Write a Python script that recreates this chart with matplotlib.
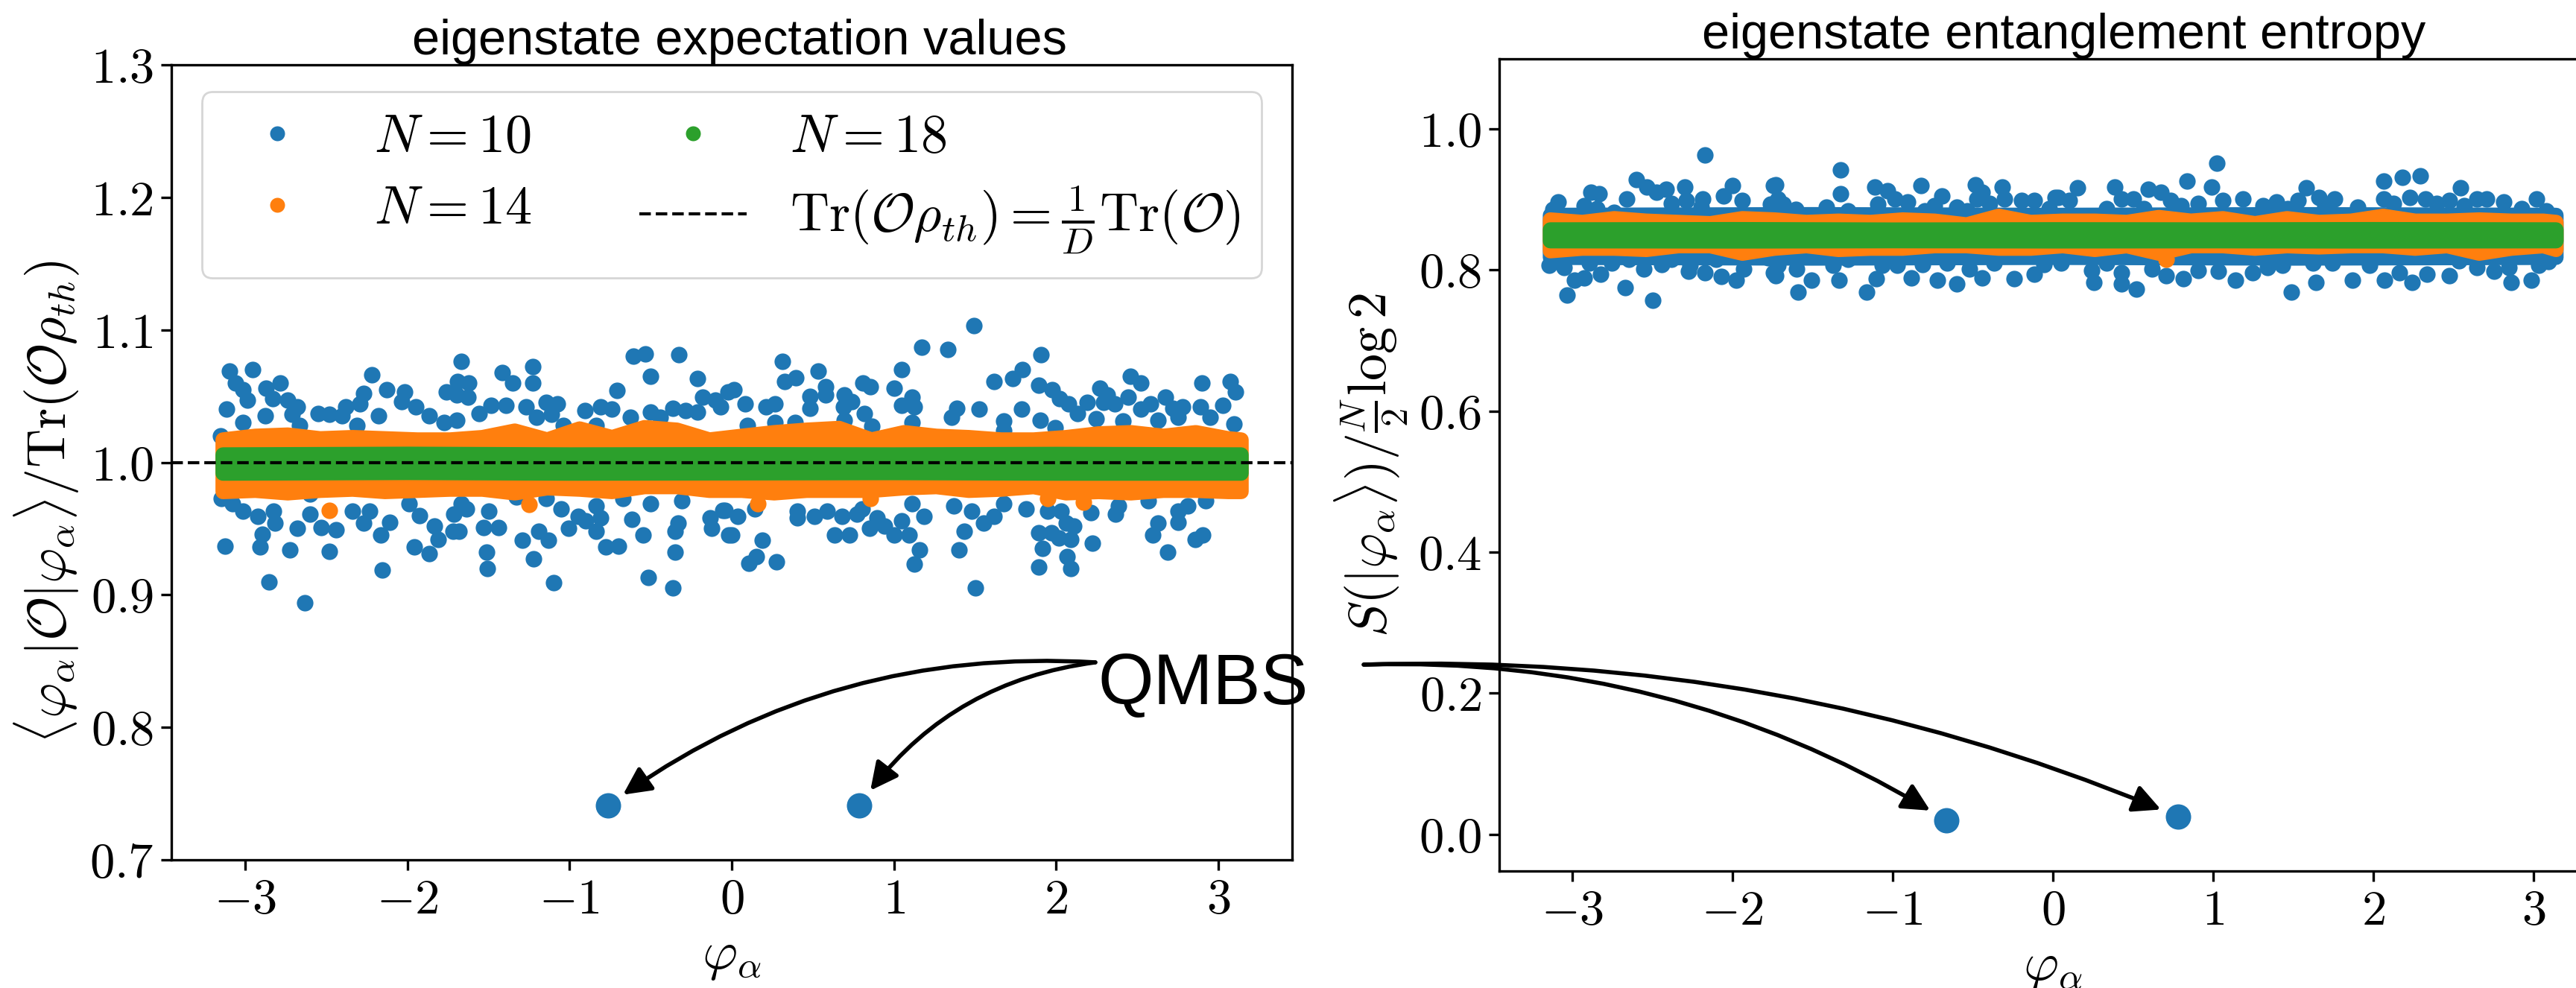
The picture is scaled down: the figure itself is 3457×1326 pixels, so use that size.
import matplotlib
matplotlib.use('Agg')
import matplotlib.pyplot as plt
from matplotlib.lines import Line2D
from matplotlib.ticker import FuncFormatter, MultipleLocator

plt.rcParams['mathtext.fontset'] = 'cm'
plt.rcParams['font.family'] = ['Liberation Sans', 'DejaVu Sans']

# --- colores (tab10) ---
C10, C14, C18 = '#1f77b4', '#ff7f0e', '#2ca02c'

# ================= panel izquierdo: valores esperados =================
# N=10, puntos visibles fuera de la banda (phi, valor)
ev_n10 = [
    (-3.096, 1.069), (-2.955, 1.070), (-3.062, 1.060), (-3.016, 1.055), (-2.986, 1.047), (-2.870, 1.056),
    (-2.786, 1.060), (-2.832, 1.048), (-3.116, 1.040), (-2.740, 1.047), (-2.679, 1.042), (-2.709, 1.036),
    (-2.878, 1.035), (-3.016, 1.030), (-2.663, 1.028), (-2.548, 1.037), (-2.479, 1.036), (-2.380, 1.042),
    (-2.403, 1.035), (-2.272, 1.052), (-2.295, 1.044), (-2.219, 1.066), (-2.127, 1.055), (-2.019, 1.053),
    (-2.035, 1.046), (-1.950, 1.042), (-1.866, 1.035), (-2.180, 1.035), (-1.759, 1.053), (-3.154, 1.020),
    (-2.311, 1.028), (-1.774, 1.030),
    (-3.147, 0.973), (-3.078, 0.969), (-3.016, 0.963), (-2.924, 0.959), (-2.825, 0.963), (-2.817, 0.954),
    (-2.894, 0.946), (-2.909, 0.936), (-3.124, 0.937), (-2.855, 0.910), (-2.633, 0.894), (-2.725, 0.934),
    (-2.679, 0.950), (-2.602, 0.961), (-2.533, 0.951), (-2.479, 0.933), (-2.441, 0.949), (-2.341, 0.963),
    (-2.272, 0.954), (-2.234, 0.963), (-2.165, 0.945), (-2.111, 0.955), (-2.157, 0.919), (-1.958, 0.936),
    (-1.866, 0.931), (-1.927, 0.960), (-1.835, 0.952), (-1.812, 0.942), (-1.989, 0.969), (-1.720, 0.948),
    (-2.602, 0.976),
    (-1.666, 1.076), (-1.689, 1.061), (-1.620, 1.060), (-1.697, 1.051), (-1.628, 1.049), (-1.413, 1.068),
    (-1.352, 1.060), (-1.229, 1.072), (-1.229, 1.060), (-1.482, 1.043), (-1.390, 1.043), (-1.559, 1.037),
    (-1.267, 1.042), (-1.145, 1.045), (-1.076, 1.044), (-1.206, 1.034), (-1.114, 1.036), (-1.697, 1.032),
    (-0.907, 1.039), (-0.807, 1.042), (-0.707, 1.054), (-0.738, 1.040), (-0.608, 1.080), (-0.531, 1.082),
    (-0.500, 1.065), (-0.324, 1.081), (-0.209, 1.063), (-0.178, 1.049), (-0.102, 1.047), (-0.071, 1.042),
    (-0.623, 1.034), (-0.500, 1.038), (-0.362, 1.041), (-0.286, 1.039), (-0.209, 1.038), (-0.025, 1.053),
    (-1.037, 1.028), (-0.838, 1.028), (-0.439, 1.034),
    (-1.666, 0.969), (-1.712, 0.961), (-1.681, 0.948), (-1.635, 0.965), (-1.497, 0.963), (-1.528, 0.951),
    (-1.436, 0.951), (-1.513, 0.932), (-1.505, 0.920), (-1.329, 0.974), (-1.290, 0.941), (-1.191, 0.948),
    (-1.129, 0.941), (-1.221, 0.927), (-1.098, 0.909), (-1.145, 0.973), (-1.053, 0.965), (-1.006, 0.950),
    (-0.945, 0.959), (-0.899, 0.956), (-0.838, 0.967), (-0.807, 0.958), (-0.838, 0.948), (-0.776, 0.936),
    (-0.700, 0.937), (-0.669, 0.973), (-0.615, 0.957), (-0.546, 0.945), (-0.500, 0.969), (-0.516, 0.913),
    (-0.362, 0.905), (-0.347, 0.932), (-0.332, 0.954), (-0.347, 0.948), (-0.308, 0.971), (-0.132, 0.958),
    (-0.125, 0.950), (-0.056, 0.964), (-0.017, 0.945),
    (0.014, 1.055), (0.083, 1.044), (0.313, 1.076), (0.328, 1.061), (0.397, 1.064), (0.213, 1.042),
    (0.267, 1.044), (0.535, 1.069), (0.581, 1.057), (0.581, 1.051), (0.482, 1.050), (0.482, 1.041),
    (0.696, 1.051), (0.742, 1.046), (0.689, 1.042), (0.811, 1.060), (0.857, 1.057), (0.819, 1.037),
    (0.865, 1.027), (1.049, 1.070), (1.003, 1.056), (1.110, 1.049), (1.049, 1.043), (1.126, 1.042),
    (1.172, 1.087), (1.333, 1.085), (1.494, 1.103), (1.616, 1.061), (1.387, 1.041), (1.524, 1.040),
    (1.356, 1.034), (1.678, 1.031), (0.267, 1.030), (0.390, 1.030), (0.098, 1.028), (1.110, 1.030),
    (0.696, 1.032),
    (-0.040, 0.964), (0.037, 0.959), (-0.002, 0.945), (0.144, 0.965), (0.190, 0.941), (0.152, 0.929),
    (0.106, 0.924), (0.274, 0.925), (0.405, 0.958), (0.405, 0.963), (0.512, 0.959), (0.589, 0.963),
    (0.635, 0.945), (0.727, 0.945), (0.681, 0.959), (0.773, 0.961), (0.804, 0.965), (0.850, 0.950),
    (0.896, 0.958), (0.942, 0.952), (1.003, 0.945), (1.049, 0.956), (1.095, 0.945), (1.126, 0.923),
    (1.156, 0.934), (1.187, 0.959), (1.110, 0.969), (1.371, 0.967), (1.433, 0.948), (1.402, 0.934),
    (1.502, 0.905), (1.479, 0.963), (1.555, 0.954), (1.616, 0.959), (1.678, 0.969),
    (1.732, 1.063), (1.793, 1.070), (1.908, 1.081), (1.893, 1.058), (1.977, 1.055), (2.023, 1.048),
    (2.077, 1.044), (2.131, 1.037), (1.786, 1.040), (1.901, 1.032), (1.993, 1.026), (2.192, 1.045),
    (2.269, 1.056), (2.315, 1.051), (2.292, 1.045), (2.361, 1.044), (2.246, 1.033), (2.414, 1.031),
    (2.460, 1.065), (2.522, 1.060), (2.445, 1.049), (2.522, 1.040), (2.583, 1.044), (2.675, 1.049),
    (2.629, 1.032), (2.721, 1.041), (2.782, 1.042), (2.752, 1.034), (2.898, 1.060), (3.074, 1.061),
    (3.105, 1.053), (3.028, 1.043), (2.890, 1.042), (2.951, 1.034), (3.097, 1.029), (1.678, 1.024),
    (1.816, 0.965), (1.947, 0.963), (1.893, 0.947), (1.970, 0.947), (2.031, 0.963), (2.062, 0.954),
    (2.108, 0.952), (2.092, 0.942), (2.016, 0.943), (1.916, 0.935), (1.893, 0.921), (2.069, 0.929),
    (2.092, 0.920), (2.223, 0.939), (2.215, 0.962), (2.368, 0.961), (2.384, 0.967), (2.568, 0.971),
    (2.629, 0.954), (2.598, 0.945), (2.690, 0.932), (2.752, 0.955), (2.752, 0.963), (2.859, 0.942),
    (2.905, 0.945), (2.921, 0.971), (2.813, 0.967),
]
# N=14, puntos sueltos por debajo de la banda
ev_n14_out = [(-2.479, 0.964), (-1.252, 0.968), (0.160, 0.969), (0.857, 0.973), (2.169, 0.970), (1.947, 0.973)]

# banda densa de N=14 (bordes superior/inferior leídos por estación)
band_phi = [-3.14, -2.94, -2.74, -2.54, -2.34, -2.14, -1.94, -1.74, -1.54, -1.34, -1.14,
            -0.94, -0.74, -0.54, -0.34, -0.14, 0.06, 0.26, 0.46, 0.66, 0.86, 1.06,
            1.26, 1.46, 1.66, 1.86, 2.06, 2.26, 2.46, 2.66, 2.86, 3.06, 3.14]
ev_n14_hi = [1.0173, 1.0201, 1.0210, 1.0182, 1.0191, 1.0182, 1.0173, 1.0173, 1.0191, 1.0240, 1.0173,
             1.0256, 1.0191, 1.0266, 1.0247, 1.0173, 1.0201, 1.0228, 1.0247, 1.0260, 1.0173, 1.0228,
             1.0201, 1.0191, 1.0173, 1.0173, 1.0191, 1.0219, 1.0228, 1.0201, 1.0228, 1.0182, 1.0173]
ev_n14_lo = [0.9781, 0.9790, 0.9771, 0.9790, 0.9799, 0.9781, 0.9790, 0.9799, 0.9799, 0.9771, 0.9809,
             0.9799, 0.9781, 0.9818, 0.9818, 0.9790, 0.9790, 0.9771, 0.9790, 0.9790, 0.9790, 0.9809,
             0.9818, 0.9790, 0.9799, 0.9818, 0.9771, 0.9781, 0.9771, 0.9790, 0.9790, 0.9781, 0.9781]

# banda de N=18
n18_phi = [-3.14, -2.0, -1.0, 0.0, 1.0, 2.0, 3.14]
ev_n18_hi = [1.0060, 1.0065, 1.0060, 1.0062, 1.0060, 1.0064, 1.0060]
ev_n18_lo = [0.9920, 0.9925, 0.9920, 0.9922, 0.9924, 0.9920, 0.9920]

# cicatrices (QMBS)
ev_qmbs_phi = [-0.764, 0.787]
ev_qmbs_val = [0.741, 0.741]

# ================= panel derecho: entropía de entrelazamiento =================
ee_n10 = [
    (-2.172, 0.963), (-2.599, 0.928), (-2.537, 0.917), (-2.886, 0.910), (-2.832, 0.908), (-3.088, 0.896),
    (-2.925, 0.891), (-2.661, 0.901), (-2.475, 0.910), (-2.413, 0.914), (-2.296, 0.917), (-2.382, 0.894),
    (-2.289, 0.898), (-2.188, 0.901), (-2.196, 0.889), (-2.001, 0.919), (-2.056, 0.905), (-1.939, 0.898),
    (-1.745, 0.919), (-1.761, 0.893), (-2.847, 0.887), (-2.739, 0.882), (-3.119, 0.886),
    (-3.142, 0.806), (-3.049, 0.803), (-2.987, 0.785), (-2.925, 0.789), (-3.033, 0.764), (-2.894, 0.810),
    (-2.824, 0.794), (-2.754, 0.810), (-2.669, 0.775), (-2.645, 0.815), (-2.552, 0.801), (-2.498, 0.757),
    (-2.444, 0.808), (-2.382, 0.815), (-2.265, 0.806), (-2.273, 0.798), (-2.172, 0.796), (-2.071, 0.791),
    (-1.978, 0.785), (-1.932, 0.801), (-2.102, 0.815), (-1.745, 0.796), (-1.776, 0.817),
    (-1.327, 0.942), (-1.327, 0.908), (-1.730, 0.921), (-1.715, 0.901), (-1.684, 0.893), (-1.606, 0.886),
    (-1.412, 0.889), (-1.280, 0.884), (-1.110, 0.917), (-1.032, 0.912), (-1.094, 0.893), (-0.986, 0.901),
    (-0.908, 0.896), (-0.823, 0.919), (-0.691, 0.905), (-0.737, 0.891), (-0.799, 0.884), (-0.598, 0.889),
    (-0.536, 0.884), (-0.481, 0.921), (-0.442, 0.910), (-0.474, 0.900), (-0.396, 0.894), (-0.318, 0.917),
    (-0.303, 0.900), (-0.194, 0.898), (-0.117, 0.898), (-0.024, 0.887), (0.015, 0.903),
    (-1.715, 0.806), (-1.730, 0.792), (-1.599, 0.801), (-1.505, 0.785), (-1.591, 0.768), (-1.373, 0.806),
    (-1.335, 0.785), (-1.280, 0.815), (-1.164, 0.768), (-1.102, 0.787), (-1.063, 0.806), (-0.970, 0.806),
    (-0.885, 0.789), (-0.815, 0.808), (-0.722, 0.785), (-0.660, 0.810), (-0.598, 0.780), (-0.520, 0.801),
    (-0.442, 0.789), (-0.365, 0.810), (-0.241, 0.787), (-0.117, 0.794), (-0.055, 0.808),
    (1.024, 0.951), (0.838, 0.926), (0.993, 0.917), (0.155, 0.916), (0.388, 0.917), (0.597, 0.914),
    (0.675, 0.910), (0.031, 0.903), (0.101, 0.898), (0.427, 0.900), (0.504, 0.900), (0.737, 0.898),
    (0.799, 0.891), (0.566, 0.887), (0.334, 0.887), (0.908, 0.894), (1.063, 0.898), (1.187, 0.900),
    (1.311, 0.891), (1.397, 0.896), (1.583, 0.916), (1.529, 0.898), (1.660, 0.903), (1.699, 0.891),
    (1.466, 0.887),
    (0.054, 0.810), (0.241, 0.799), (0.256, 0.782), (0.427, 0.796), (0.427, 0.780), (0.520, 0.773),
    (0.621, 0.801), (0.706, 0.792), (0.815, 0.787), (0.908, 0.799), (1.032, 0.798), (1.141, 0.785),
    (1.249, 0.796), (1.342, 0.803), (1.435, 0.806), (1.490, 0.768), (1.645, 0.782), (1.622, 0.810),
    (0.334, 0.810),
    (2.064, 0.926), (2.180, 0.931), (2.296, 0.933), (2.545, 0.916), (1.761, 0.900), (1.901, 0.889),
    (2.064, 0.901), (2.126, 0.894), (2.227, 0.903), (2.327, 0.901), (2.397, 0.894), (2.475, 0.898),
    (2.568, 0.891), (2.646, 0.901), (2.708, 0.900), (2.816, 0.896), (2.925, 0.887), (3.018, 0.900),
    (3.080, 0.884),
    (1.746, 0.810), (1.870, 0.785), (1.978, 0.806), (2.071, 0.785), (2.165, 0.796), (2.242, 0.782),
    (2.335, 0.794), (2.475, 0.792), (2.537, 0.813), (2.646, 0.803), (2.754, 0.798), (2.863, 0.782),
    (2.847, 0.803), (2.987, 0.785), (3.096, 0.812), (3.034, 0.806),
]
ee_n14_out = [(0.706, 0.815)]

# núcleo denso de N=10 alrededor de la banda
core_phi = [-3.14, -1.5, 0.0, 1.5, 3.14]
ee_n10_hi = [0.878, 0.879, 0.878, 0.879, 0.878]
ee_n10_lo = [0.818, 0.817, 0.818, 0.817, 0.818]

ee_n14_hi = [0.8715, 0.8680, 0.8733, 0.8698, 0.8680, 0.8662, 0.8733, 0.8715, 0.8680, 0.8698, 0.8680,
             0.8715, 0.8698, 0.8645, 0.8767, 0.8680, 0.8698, 0.8698, 0.8680, 0.8750, 0.8698, 0.8733,
             0.8662, 0.8733, 0.8680, 0.8698, 0.8767, 0.8698, 0.8698, 0.8715, 0.8698, 0.8698, 0.8680]
ee_n14_lo = [0.8274, 0.8310, 0.8310, 0.8292, 0.8345, 0.8345, 0.8239, 0.8310, 0.8345, 0.8292, 0.8310,
             0.8310, 0.8345, 0.8345, 0.8310, 0.8310, 0.8345, 0.8292, 0.8345, 0.8239, 0.8345, 0.8345,
             0.8310, 0.8345, 0.8328, 0.8345, 0.8345, 0.8310, 0.8345, 0.8239, 0.8310, 0.8345, 0.8292]

ee_n18_hi = [0.8574, 0.8578, 0.8572, 0.8576, 0.8574, 0.8578, 0.8574]
ee_n18_lo = [0.8415, 0.8412, 0.8416, 0.8413, 0.8415, 0.8412, 0.8415]

ee_qmbs_phi = [-0.666, 0.782]
ee_qmbs_val = [0.020, 0.025]

# --- estilo ---
MS = 7.2          # diámetro de la banda (puntos)
S_PT = 64         # área de los puntos sueltos
TICK_FS = 24
LAB_FS = 26


def band(ax, x, lo, hi, color, z):
    ax.fill_between(x, lo, hi, facecolor=color, edgecolor=color, linewidth=MS,
                    joinstyle='round', zorder=z)


def cloud(ax, pts, color, z):
    ax.scatter([p[0] for p in pts], [p[1] for p in pts], s=S_PT, color=color,
               linewidths=0, zorder=z)


def style(ax, ystep, yfmt):
    ax.xaxis.set_major_locator(MultipleLocator(1))
    ax.yaxis.set_major_locator(MultipleLocator(ystep))
    ax.xaxis.set_major_formatter(FuncFormatter(lambda v, p: f'${v:.0f}$'))
    ax.yaxis.set_major_formatter(FuncFormatter(lambda v, p: '$' + format(v, yfmt) + '$'))
    ax.tick_params(labelsize=TICK_FS, width=1.2, length=5)
    for sp in ax.spines.values():
        sp.set_linewidth(1.2)
    ax.set_xlabel(r'$\varphi_\alpha$', fontsize=LAB_FS)


fig = plt.figure(figsize=(17.285, 6.63), dpi=200)
ax1 = fig.add_axes([0.0665, 0.1297, 0.4351, 0.8047])
ax2 = fig.add_axes([0.5820, 0.1184, 0.4298, 0.8220])

# --- panel izquierdo ---
cloud(ax1, ev_n10, C10, 2)
cloud(ax1, ev_n14_out, C14, 3)
band(ax1, band_phi, ev_n14_lo, ev_n14_hi, C14, 3)
band(ax1, n18_phi, ev_n18_lo, ev_n18_hi, C18, 4)
th = ax1.axhline(1.0, color='k', ls='--', lw=1.5, zorder=5)
ax1.scatter(ev_qmbs_phi, ev_qmbs_val, s=150, color=C10, linewidths=0, zorder=6)
ax1.set_xlim(-3.456, 3.456)
ax1.set_ylim(0.7, 1.3)
style(ax1, 0.1, '.1f')
ax1.set_ylabel(r'$\langle \varphi_\alpha|\mathcal{O}|\varphi_\alpha\rangle/\mathrm{Tr}(\mathcal{O}\rho_{th})$',
               fontsize=LAB_FS)
ax1.yaxis.label.set_y(0.45)
ax1.set_title('eigenstate expectation values', fontsize=24, family='Liberation Sans', pad=5, x=0.507)

h10 = Line2D([], [], ls='none', marker='o', ms=MS, mec='none', color=C10)
h14 = Line2D([], [], ls='none', marker='o', ms=MS, mec='none', color=C14)
h18 = Line2D([], [], ls='none', marker='o', ms=MS, mec='none', color=C18)
ax1.legend([h10, h14, h18, th],
           [r'$N=10$', r'$N=14$', r'$N=18$',
            r'$\mathrm{Tr}(\mathcal{O}\rho_{th})=\frac{1}{D}\mathrm{Tr}(\mathcal{O})$'],
           ncol=2, loc='upper center', fontsize=LAB_FS, labelspacing=0.4)

# --- panel derecho ---
cloud(ax2, ee_n10, C10, 2)
band(ax2, core_phi, ee_n10_lo, ee_n10_hi, C10, 2)
cloud(ax2, ee_n14_out, C14, 3)
band(ax2, band_phi, ee_n14_lo, ee_n14_hi, C14, 3)
band(ax2, n18_phi, ee_n18_lo, ee_n18_hi, C18, 4)
ax2.scatter(ee_qmbs_phi, ee_qmbs_val, s=150, color=C10, linewidths=0, zorder=6)
ax2.set_xlim(-3.456, 3.456)
ax2.set_ylim(-0.052, 1.099)
style(ax2, 0.2, '.1f')
ax2.set_ylabel(r'$S(|\varphi_\alpha\rangle)/\frac{N}{2}\log 2$', fontsize=LAB_FS)
ax2.set_title('eigenstate entanglement entropy', fontsize=24, family='Liberation Sans', pad=5, x=0.51)

# --- anotación QMBS ---
fig.text(0.4261, 0.2873, 'QMBS', fontsize=34.5, family='Liberation Sans', ha='left', va='baseline')
arrow = dict(arrowstyle='-|>', color='k', lw=2, shrinkA=0, shrinkB=9, mutation_scale=28)
for px, py, rad in zip(ev_qmbs_phi, ev_qmbs_val, [0.18, 0.22]):
    ax1.annotate('', xy=(px, py), xytext=(0.4252, 0.3296), textcoords='figure fraction',
                 arrowprops=dict(arrow, connectionstyle=f'arc3,rad={rad}'))
for px, py, rad in zip(ee_qmbs_phi, ee_qmbs_val, [-0.15, -0.11]):
    ax2.annotate('', xy=(px, py), xytext=(0.5294, 0.3273), textcoords='figure fraction',
                 arrowprops=dict(arrow, connectionstyle=f'arc3,rad={rad}'))

fig.savefig('out.png', dpi=200)
